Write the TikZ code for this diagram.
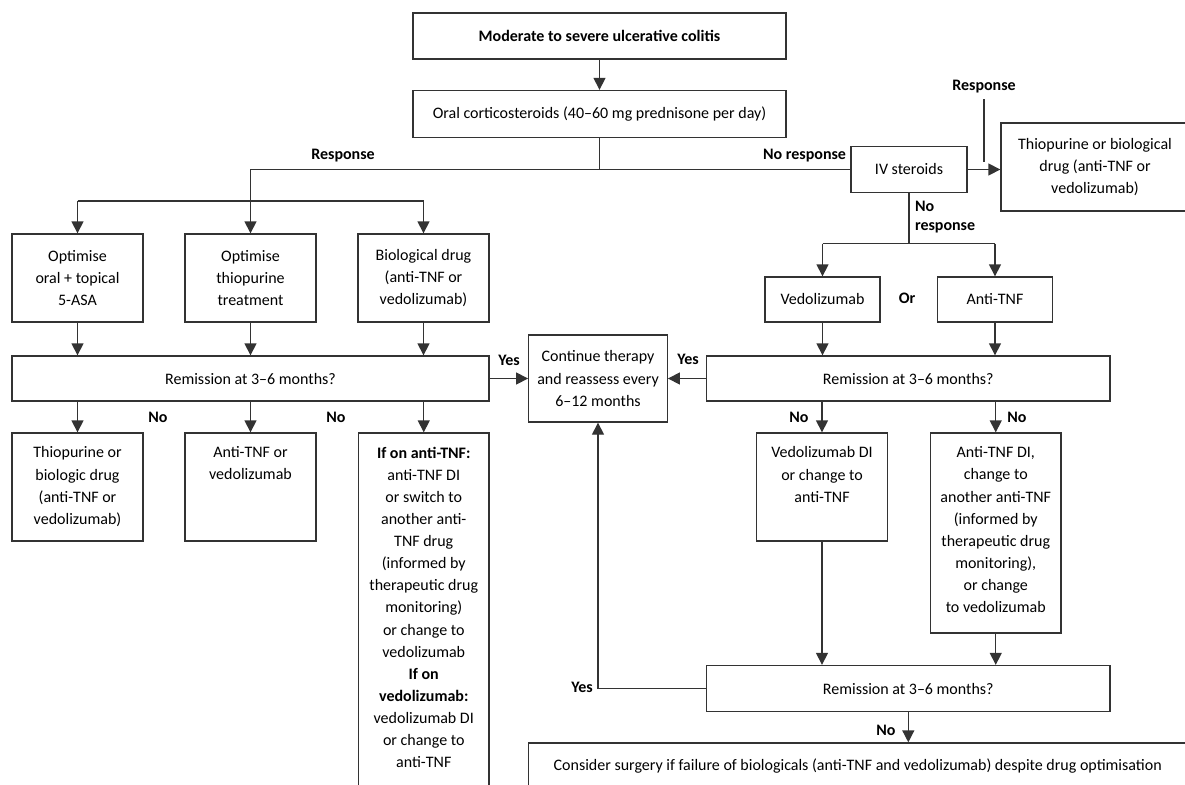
\documentclass[tikz,border=0pt]{standalone}
\usepackage{fontspec}
\setmainfont{Carlito}
\usetikzlibrary{arrows.meta}

\tikzset{
  box/.style={draw=black!80, line width=1pt, align=center, inner sep=0pt,
    font=\fontsize{12}{16.6}\selectfont},
  sz/.style 2 args={minimum width=#1*0.75pt, minimum height=#2*0.75pt},
  toptxt/.style={label={[anchor=north, yshift=-7pt, align=center,
    font=\fontsize{12}{16.6}\selectfont]north:{#1}}},
  lab/.style={font=\fontsize{12}{14}\selectfont\bfseries, inner sep=1pt},
  arr/.style={-{Triangle[length=9pt,width=9pt]}},
}

\begin{document}
\begin{tikzpicture}[x=0.75pt, y=-0.75pt, line width=1pt, draw=black!80]
  \useasboundingbox (0,0) rectangle (1185,785);
  \clip (0,0) rectangle (1185,785);

  % top of the chart
  \node[box, sz={373}{46}] (uc) at (599.5,36) {\bfseries Moderate to severe ulcerative colitis};
  \node[box, sz={373}{47}] (oral) at (599.5,114) {Oral corticosteroids (40--60 mg prednisone per day)};
  \node[box, sz={116}{46}] (iv) at (909,169.5) {IV steroids};
  \node[box, sz={188}{88}] (thio) at (1095,167) {Thiopurine or biological\\drug (anti-TNF or\\vedolizumab)};

  % response branch
  \node[box, sz={131}{88}] (opt) at (77.5,278) {Optimise\\oral + topical\\5-ASA};
  \node[box, sz={131}{88}] (optthio) at (250.5,278) {Optimise\\thiopurine\\treatment};
  \node[box, sz={131}{88}] (biol) at (423.5,278) {Biological drug\\(anti-TNF or\\vedolizumab)};
  \node[box, sz={477}{45}] (remL) at (250.5,378.5) {Remission at 3--6 months?};
  \node[box, sz={138.5}{87}] (cont) at (598,378.5) {Continue therapy\\and reassess every\\6--12 months};
  \node[box, sz={131}{108}, toptxt={Thiopurine or\\biologic drug\\(anti-TNF or\\vedolizumab)}] (thiob) at (77.5,487) {};
  \node[box, sz={131}{108}, toptxt={Anti-TNF or\\vedolizumab}] (antiv) at (250.5,487) {};
  \node[box, sz={130.5}{377}, toptxt={\bfseries If on anti-TNF:\\anti-TNF DI\\or switch to\\another anti-\\TNF drug\\(informed by\\therapeutic drug\\monitoring)\\or change to\\vedolizumab\\\bfseries If on\\\bfseries vedolizumab:\\vedolizumab DI\\or change to\\anti-TNF}] (ifon) at (423.75,621.5) {};

  % no response branch
  \node[box, sz={115}{45}] (vedo) at (822.5,299.5) {Vedolizumab};
  \node[box, sz={115}{45}] (anti) at (995,299.5) {Anti-TNF};
  \node[box, sz={403.5}{45}] (remR) at (908.3,378.5) {Remission at 3--6 months?};
  \node[box, sz={130.5}{108}, toptxt={Vedolizumab DI\\or change to\\anti-TNF}] (vedodi) at (822,487) {};
  \node[box, sz={130.5}{200}, toptxt={Anti-TNF DI,\\change to\\another anti-TNF\\(informed by\\therapeutic drug\\monitoring),\\or change\\to vedolizumab}] (antidi) at (995.75,533) {};
  \node[box, sz={403.5}{46}] (remB) at (908.3,688.5) {Remission at 3--6 months?};
  \node[box, sz={658.5}{46}] (surg) at (857.75,766) {Consider surgery if failure of biologicals (anti-TNF and vedolizumab) despite drug optimisation};

  \coordinate (spL) at (250.5,201);
  \coordinate (spR) at (909,243.7);

  % connectors
  \draw[arr] (uc) -- (oral);
  \draw (oral.south) |- (iv.west);
  \draw (oral.south |- iv.west) -| (spL);
  \draw (opt.north |- spL) -- (biol.north |- spL);
  \draw[arr] (opt.north |- spL) -- (opt);
  \draw[arr] (spL) -- (optthio);
  \draw[arr] (biol.north |- spL) -- (biol);
  \draw[arr] (iv.east) -- (iv.east -| thio.west);
  \draw (iv) -- (spR);
  \draw (vedo.north |- spR) -- (anti.north |- spR);
  \draw[arr] (vedo.north |- spR) -- (vedo);
  \draw[arr] (anti.north |- spR) -- (anti);

  \foreach \b in {opt, optthio, biol}
    \draw[arr] (\b) -- (\b |- remL.north);
  \foreach \b in {thiob, antiv, ifon}
    \draw[arr] (remL.south -| \b) -- (\b);
  \draw[arr] (remL) -- (cont);
  \draw[arr] (remR) -- (cont);
  \draw[arr] (vedo) -- (vedo |- remR.north);
  \draw[arr] (anti) -- (anti |- remR.north);
  \draw[arr] (remR.south -| vedodi) -- (vedodi);
  \draw[arr] (remR.south -| antidi) -- (antidi);
  \draw[arr] (vedodi) -- (vedodi |- remB.north);
  \draw[arr] (antidi) -- (antidi |- remB.north);
  \draw[arr] (remB.west) -| (cont.south);
  \draw[arr] (remB) -- (remB |- surg.north);

  % labels
  \node[lab] (rspL) at (343,156) {Response};
  \node[lab, anchor=east] (norsp) at (848,156) {No response};
  \node[lab] (rspR) at (984,87) {Response};
  \draw ([yshift=-3pt]rspR.south) -- ([yshift=6pt]iv.east -| rspR.south);
  \node[lab, anchor=north west, align=left] (norsp2) at (913,199) {No\\response};
  \node[lab] (or) at (907,298) {Or};
  \node[lab] (yesL) at (509,360) {Yes};
  \node[lab] (yesR) at (688,359) {Yes};
  \node[lab] (noL1) at (158,417) {No};
  \node[lab] (noL2) at (336,417) {No};
  \node[lab] (noR1) at (799,417) {No};
  \node[lab] (noR2) at (1017,417) {No};
  \node[lab] (yesB) at (582,687) {Yes};
  \node[lab] (noB) at (886,730) {No};
\end{tikzpicture}
\end{document}
